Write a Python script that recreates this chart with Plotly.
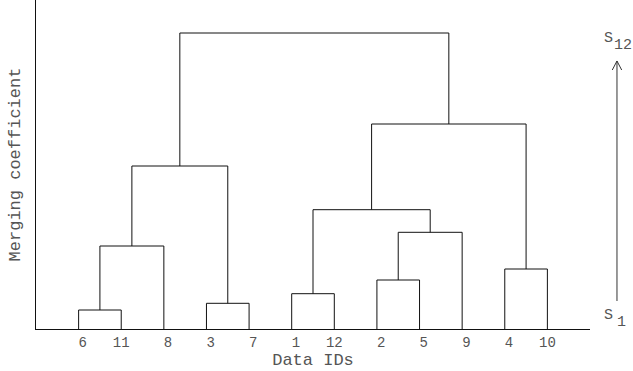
import plotly.graph_objects as go

# ---- data ----
leaf_order = [6, 11, 8, 3, 7, 1, 12, 2, 5, 9, 4, 10]          # left-to-right order of data IDs
# merges: (cluster A, cluster B, merging coefficient); new clusters numbered 13, 14, ...
merge_a = [6, 3, 1, 2, 4, 13, 16, 15, 18, 20, 21]
merge_b = [11, 7, 12, 5, 10, 8, 9, 19, 14, 17, 22]
merge_h = [19, 25.7, 35.3, 49, 60, 83, 96.7, 119.3, 163, 205, 296]
x_title = "Data IDs"
y_title = "Merging coefficient"
top_label = ("S", "12")
bottom_label = ("S", "1")

# ---- build dendrogram geometry ----
pos = {leaf: i + 1 for i, leaf in enumerate(leaf_order)}
hgt = {leaf: 0 for leaf in leaf_order}
xs, ys = [], []
for k, (a, b, h) in enumerate(zip(merge_a, merge_b, merge_h)):
    xa, xb = pos[a], pos[b]
    xs += [xa, xa, xb, xb, None]
    ys += [hgt[a], h, h, hgt[b], None]
    cid = 13 + k
    pos[cid] = (xa + xb) / 2
    hgt[cid] = h

FONT = "Liberation Mono"
TXT = "#555555"

fig = go.Figure()
fig.add_trace(go.Scatter(x=xs, y=ys, mode="lines",
                         line=dict(color="#111111", width=1),
                         hoverinfo="skip", showlegend=False))

tickvals = [pos[l] for l in leaf_order]
ticktext = [str(l).rjust(2, "\u00a0") for l in leaf_order]

fig.update_layout(
    width=633, height=371,
    margin=dict(l=36, r=43, t=0, b=42),
    plot_bgcolor="white", paper_bgcolor="white",
    font=dict(family=FONT, color=TXT, size=14),
    xaxis=dict(range=[0, len(leaf_order) + 1], tickvals=tickvals, ticktext=ticktext,
               showgrid=False, zeroline=False, showline=True, linecolor="#111111",
               linewidth=1, ticks="", tickfont=dict(size=14, family=FONT, color=TXT),
               title=dict(text=x_title, font=dict(size=17, family=FONT, color=TXT), standoff=0)),
    yaxis=dict(range=[0, 329], showgrid=False, zeroline=False, showline=True,
               linecolor="#111111", linewidth=1, ticks="", showticklabels=False,
               title=dict(text=y_title, font=dict(size=17, family=FONT, color=TXT), standoff=10)),
)

# arrow from S1 to S12 (paper coordinates, outside the plotting area)
ax_x, tip_y, tail_y = 1.0487, 0.8146, 0.0851
arm_dx, arm_y = 0.0085, 0.7872
arrow_line = dict(color="#333333", width=1)
fig.add_shape(type="line", xref="paper", yref="paper", x0=ax_x, x1=ax_x, y0=tail_y, y1=tip_y,
              line=arrow_line)
fig.add_shape(type="line", xref="paper", yref="paper", x0=ax_x - arm_dx, x1=ax_x,
              y0=arm_y, y1=tip_y, line=arrow_line)
fig.add_shape(type="line", xref="paper", yref="paper", x0=ax_x + arm_dx, x1=ax_x,
              y0=arm_y, y1=tip_y, line=arrow_line)

# labels
fig.add_annotation(x=1.045, y=0.882, xref="paper", yref="paper", text=top_label[0],
                   showarrow=False, xanchor="right", yanchor="middle",
                   font=dict(size=15, family=FONT, color=TXT))
fig.add_annotation(x=1.040, y=0.863, xref="paper", yref="paper", text=top_label[1],
                   showarrow=False, xanchor="left", yanchor="middle",
                   font=dict(size=15, family=FONT, color=TXT))
fig.add_annotation(x=1.045, y=0.040, xref="paper", yref="paper", text=bottom_label[0],
                   showarrow=False, xanchor="right", yanchor="middle",
                   font=dict(size=15, family=FONT, color=TXT))
fig.add_annotation(x=1.045, y=0.019, xref="paper", yref="paper", text=bottom_label[1],
                   showarrow=False, xanchor="left", yanchor="middle",
                   font=dict(size=15, family=FONT, color=TXT))

fig.write_html("out.html")
